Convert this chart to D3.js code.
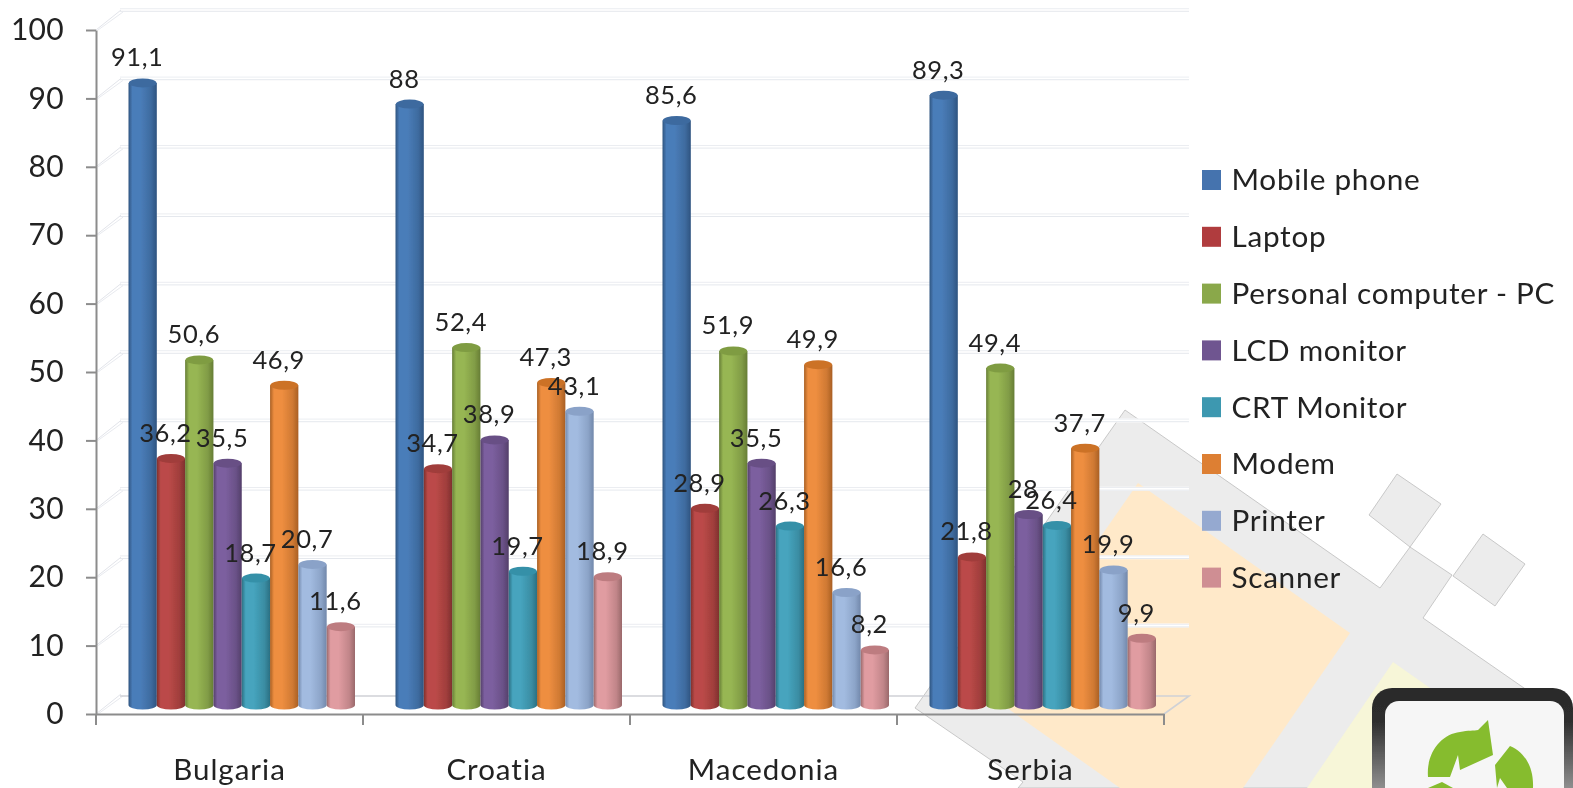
<!DOCTYPE html>
<html><head><meta charset="utf-8">
<script src="https://cdn.jsdelivr.net/npm/d3@7/dist/d3.min.js"></script>
<style>
html,body{margin:0;padding:0;background:#fff;overflow:hidden}
svg{display:block}
text{font-family:Lato,"Open Sans",sans-serif;fill:#222}
</style></head><body><svg id="c" width="1573" height="788"></svg>
<script>
const categories=["Bulgaria","Croatia","Macedonia","Serbia"];
const seriesNames=["Mobile phone","Laptop","Personal computer - PC","LCD monitor","CRT Monitor","Modem","Printer","Scanner"];
const mobilePhone=[91.1,88,85.6,89.3];
const laptop=[36.2,34.7,28.9,21.8];
const personalComputer=[50.6,52.4,51.9,49.4];
const lcdMonitor=[35.5,38.9,35.5,28];
const crtMonitor=[18.7,19.7,26.3,26.4];
const modem=[46.9,47.3,49.9,37.7];
const printer=[20.7,43.1,16.6,19.9];
const scanner=[11.6,18.9,8.2,9.9];
const seriesValues=[mobilePhone,laptop,personalComputer,lcdMonitor,crtMonitor,modem,printer,scanner];
const yTicks=[0,10,20,30,40,50,60,70,80,90,100];
const legendColors=["#4573ae","#b03c3e","#8aa84a","#6f5590","#3d98b0","#dd7f33","#95a9d0","#cf8e93"];
const barLight=["#4a7db9","#bb4a48","#97b653","#7c5f9f","#46a4be","#ee8e40","#a2bbe0","#e09ca1"];
const barDark=["#2f5480","#7f302e","#667d35","#533f69","#2b7083","#a96024","#7288ab","#9a696b"];
const barTop=["#3d6a9f","#a03c3a","#7f9c42","#674f85","#3590a8","#cc7228","#8aa2c8","#bd7c80"];

const svg=d3.select("#c");
const defs=svg.append("defs");
const soft=defs.append("filter").attr("id","soft").attr("x","-2%").attr("y","-2%").attr("width","104%").attr("height","104%");
soft.append("feGaussianBlur").attr("stdDeviation",0.45);
// background decoration
const bg=svg.append("g");
const poly=(pts,fill,stroke)=>bg.append("polygon").attr("points",pts.map(p=>p.join(",")).join(" ")).attr("fill",fill).attr("stroke",stroke||"none").attr("stroke-width",stroke?0.8:0);
poly([[1125,410],[1380,588],[1410,547],[1452,575],[1423,618],[1573,722],[1573,788],[1018,788],[1023,782],[915,708]],"#ececec","#bdbdbd");
poly([[1397,474],[1441,504],[1410,547],[1369,515]],"#ececec","#bdbdbd");
poly([[1483,534],[1525,564],[1495,606],[1453,576]],"#ececec","#bdbdbd");
poly([[1138,483],[1350,633],[1243,788],[1120,788],[990,696]],"#ffe9c9");
poly([[1393,662],[1440,695],[1440,788],[1307,788]],"#f7f6d8");
// logo
const lg=defs.append("linearGradient").attr("id","logoB").attr("x1",0).attr("y1",0).attr("x2",0).attr("y2",1);
lg.append("stop").attr("offset",0).attr("stop-color","#2a2a2a");
lg.append("stop").attr("offset",0.3).attr("stop-color","#2e2e2e");
lg.append("stop").attr("offset",1).attr("stop-color","#a0a0a0");
const logo=bg.append("g").attr("filter","url(#soft)");
logo.append("path").attr("fill","url(#logoB)").attr("d","M1372,800V708a20,20 0 0 1 20,-20H1553a20,20 0 0 1 20,20V800Z");
logo.append("rect").attr("x",1385).attr("y",701).attr("width",179).attr("height",120).attr("rx",14).attr("fill","#f6f6f6");
logo.append("path").attr("fill","#86bc2e").attr("d","M1488,720 L1493,755 L1460,770 L1458,755 L1450,777 L1428,777 C1426,752 1442,734 1460,732 C1468,730 1474,731 1478,730 Z");
logo.append("path").attr("fill","#86bc2e").attr("d","M1510,746 C1524,752 1534,766 1533,788 L1507,788 L1500,778 L1497,788 L1495,765 Z");
logo.append("path").attr("fill","#86bc2e").attr("d","M1428,788 L1442,782 L1453,788 Z");

// scales
const depthX=25, depthY=18, topLift=8, baseLift=9;
const y=d3.scaleLinear().domain([0,100]).range([714,30]);
const x0=d3.scaleBand().domain(categories).range([96,1164]);
const x1=d3.scaleBand().domain(seriesNames).range([32.5,259]);
const wall=svg.append("g");
// gridlines (double-lined wall)
yTicks.forEach(t=>{
  const yy=y(t);
  if(t>0){
    wall.append("path").attr("d",`M${x0.range()[0]+depthX-1},${yy-depthY-2}H1189`).attr("stroke","#fff").attr("stroke-width",4).attr("fill","none");
    wall.append("path").attr("d",`M${x0.range()[0]+depthX-1},${yy-depthY-3.3}H1189`).attr("stroke","#e6e8ee").attr("stroke-opacity",.8).attr("stroke-width",1).attr("fill","none");
    wall.append("path").attr("d",`M${x0.range()[0]+depthX-1},${yy-depthY-.7}H1189`).attr("stroke","#dfe2e9").attr("stroke-opacity",.8).attr("stroke-width",1).attr("fill","none");
  }
  wall.append("path").attr("d",`M${x0.range()[0]},${yy}l${depthX},${-depthY-2}`).attr("stroke","#e2e4ea").attr("stroke-width",1).attr("fill","none");
  wall.append("path").attr("d",`M${x0.range()[0]+2},${yy}l${depthX},${-depthY}`).attr("stroke","#e8eaef").attr("stroke-width",1).attr("fill","none");
});
// floor
const floorY=y(0)-depthY;
wall.append("path").attr("d",`M${x0.range()[0]+depthX-1},${floorY}H1189L${x0.range()[1]},${y(0)}`).attr("fill","none").attr("stroke","#cfd1d6").attr("stroke-width",1.6);

// axes
const axisL=d3.axisLeft(y).tickValues(yTicks).tickSize(10).tickPadding(22).tickSizeOuter(0);
const gL=svg.append("g").attr("transform",`translate(${x0.range()[0]},0)`).call(axisL);
const axisB=d3.axisBottom(x0).tickSize(0).tickPadding(45);
const gB=svg.append("g").attr("transform",`translate(0,${y(0)})`).call(axisB);
gB.selectAll(".tick line").remove();
gB.selectAll("g.cat").data(d3.range(categories.length+1)).enter().append("line")
  .attr("x1",i=>x0.range()[0]+i*x0.step()).attr("x2",i=>x0.range()[0]+i*x0.step()).attr("y1",0).attr("y2",11)
  .attr("stroke","#8c8c8c").attr("stroke-width",2);
[gL,gB].forEach(g=>{g.selectAll("path.domain,line").attr("stroke","#8c8c8c").attr("stroke-width",2);});
gL.selectAll("text").style("font-size","30px").style("font-family","Lato").style("fill","#222").style("letter-spacing","0.3px").attr("filter","url(#soft)");
gB.selectAll("text").style("font-size","29.5px").style("font-family","Lato").style("fill","#222").style("letter-spacing","1px").attr("filter","url(#soft)");

// gradients
seriesNames.forEach((s,i)=>{
  const g=defs.append("linearGradient").attr("id","g"+i);
  [[0,barDark[i]],[.14,barLight[i]],[.42,barLight[i]],[.8,d3.interpolateRgb(barLight[i],barDark[i])(.45)],[1,barDark[i]]].forEach(([o,c])=>g.append("stop").attr("offset",o).attr("stop-color",c));
});
// bars
const rx=x1.bandwidth()/2, ry=4.5;
const bars=svg.append("g").attr("filter","url(#soft)");
seriesNames.forEach((s,i)=>{
  categories.forEach((c,j)=>{
    const v=seriesValues[i][j];
    const xl=x0(c)+x1(s), xr=xl+x1.bandwidth();
    const top=y(v)-topLift, base=y(0)-baseLift;
    bars.append("path").attr("fill",`url(#g${i})`)
      .attr("d",`M${xl},${top}V${base}A${rx},${ry} 0 0 0 ${xr},${base}V${top}Z`);
    bars.append("ellipse").attr("cx",xl+rx).attr("cy",top).attr("rx",rx-0.3).attr("ry",ry).attr("fill",barTop[i]);
  });
});
// data labels
const labels=svg.append("g");
seriesNames.forEach((s,i)=>{
  categories.forEach((c,j)=>{
    const v=seriesValues[i][j];
    labels.append("text").attr("x",x0(c)+x1(s)+rx-5.5).attr("y",y(v)-33.5).attr("dy","0.35em")
      .attr("text-anchor","middle").attr("filter","url(#soft)").style("font-size","25.5px").style("letter-spacing","0.6px")
      .text(String(v).replace(".",","));
  });
});
// legend
const leg=svg.append("g");
const ly=d3.scalePoint().domain(seriesNames).range([180,577.6]);
seriesNames.forEach((s,i)=>{
  leg.append("rect").attr("x",1202).attr("y",ly(s)-10).attr("width",19).attr("height",20).attr("fill",legendColors[i]);
  leg.append("text").attr("x",1231.5).attr("y",ly(s)).attr("dy","0.35em").attr("filter","url(#soft)").style("font-size","29.7px").style("letter-spacing","0.72px").text(s);
});
</script></body></html>
